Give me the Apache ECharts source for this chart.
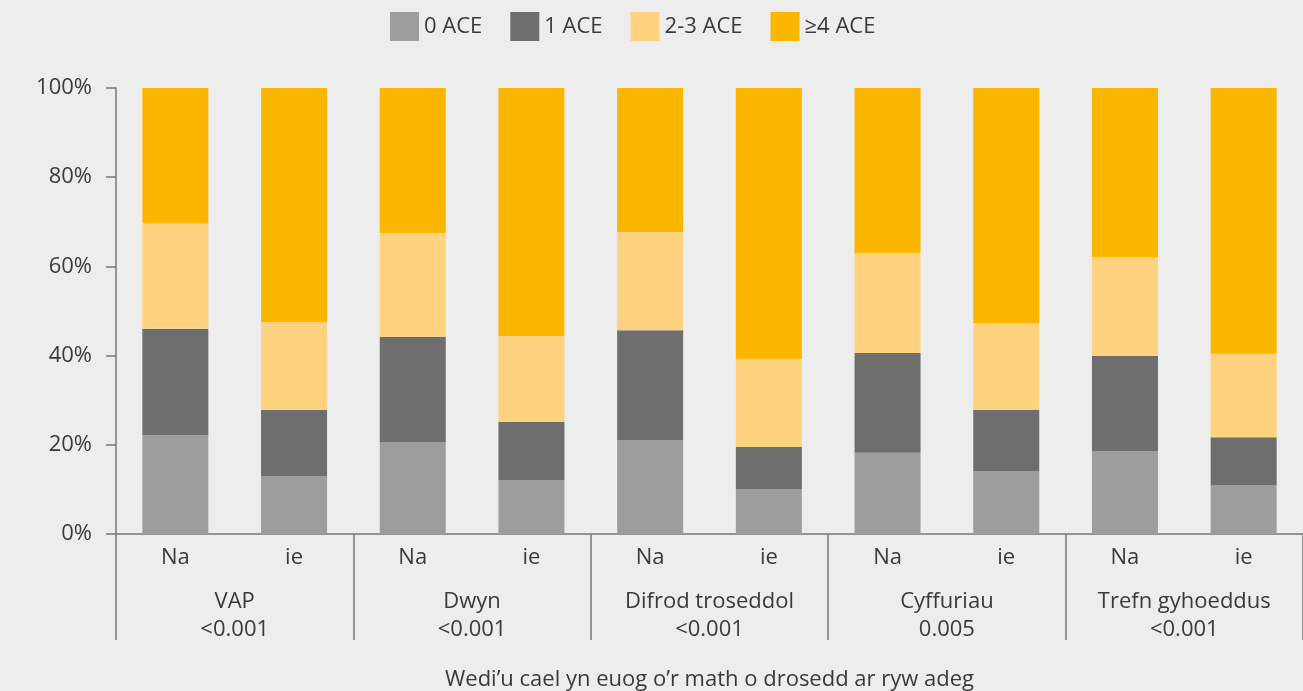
<!DOCTYPE html>
<html><head><meta charset="utf-8">
<script src="https://cdn.jsdelivr.net/npm/echarts@6/dist/echarts.min.js"></script>
<style>html,body{margin:0;padding:0;background:#ededed;}#c{width:1303px;height:691px;}</style>
</head><body><div id="c"></div>
<script>
const subCategories = ['Na','ie','Na','ie','Na','ie','Na','ie','Na','ie'];
const groups = ['VAP\n<0.001','Dwyn\n<0.001','Difrod troseddol\n<0.001','Cyffuriau\n0.005','Trefn gyhoeddus\n<0.001'];
const seriesNames = ['0 ACE','1 ACE','2-3 ACE','≥4 ACE'];
const ace0 = [22.2, 13.0, 20.6, 12.1, 21.1, 10.1, 18.2, 14.1, 18.6, 11.0];
const ace1 = [23.8, 14.8, 23.6, 13.0, 24.6, 9.4, 22.4, 13.7, 21.3, 10.7];
const ace23 = [23.7, 19.7, 23.3, 19.3, 22.0, 19.7, 22.4, 19.5, 22.2, 18.7];
const ace4 = [30.3, 52.5, 32.5, 55.6, 32.3, 60.8, 37.0, 52.7, 37.9, 59.6];
const yTicks = [0, 20, 40, 60, 80, 100];
const axisTitle = 'Wedi’u cael yn euog o’r math o drosedd ar ryw adeg';
const colors = ['#9d9d9b','#6e6e6e','#fed27f','#fbb600'];

const font = 'Open Sans';
const txt = '#3a3a3a';
const fs = 22;
const chart = echarts.init(document.getElementById('c'));
const data = [ace0, ace1, ace23, ace4];
chart.setOption({
  backgroundColor: '#ededed',
  textStyle: {fontFamily: font},
  legend: {
    top: 7, left: 385, itemWidth: 29, itemHeight: 29, itemGap: 28, icon: 'rect',
    textStyle: {fontSize: fs, color: txt, fontFamily: font},
    data: seriesNames
  },
  grid: {left: 116, right: 0, top: 88, bottom: 157, containLabel: false, outerBoundsMode: 'none'},
  xAxis: [{
    type: 'category', data: subCategories, position: 'bottom',
    axisLine: {show: true, lineStyle: {color: '#777', width: 1.5}},
    axisTick: {show: false},
    axisLabel: {fontSize: fs, color: txt, margin: 13, fontFamily: font},
    name: axisTitle, nameLocation: 'middle', nameGap: 135,
    nameTextStyle: {fontSize: fs, color: txt, fontFamily: font}
  }, {
    type: 'category', data: groups, position: 'bottom',
    axisLine: {show: false},
    axisTick: {show: true, length: 106, interval: 0, lineStyle: {color: '#777', width: 1.5}},
    axisLabel: {fontSize: fs, color: txt, margin: 54, lineHeight: 28, interval: 0, fontFamily: font},
    splitLine: {show: false}
  }],
  yAxis: {
    type: 'value', min: 0, max: 100, interval: 20,
    axisLine: {show: true, lineStyle: {color: '#777', width: 1.5}},
    axisTick: {show: true, length: 10, lineStyle: {color: '#777', width: 1.5}},
    splitLine: {show: false},
    axisLabel: {fontSize: fs, color: txt, margin: 24, fontFamily: font,
      formatter: v => yTicks.includes(v) ? v + '%' : ''}
  },
  series: seriesNames.map((n, i) => ({
    name: n, type: 'bar', stack: 'a', barWidth: 66, xAxisIndex: 0,
    itemStyle: {color: colors[i]},
    data: data[i]
  }))
});
</script></body></html>
